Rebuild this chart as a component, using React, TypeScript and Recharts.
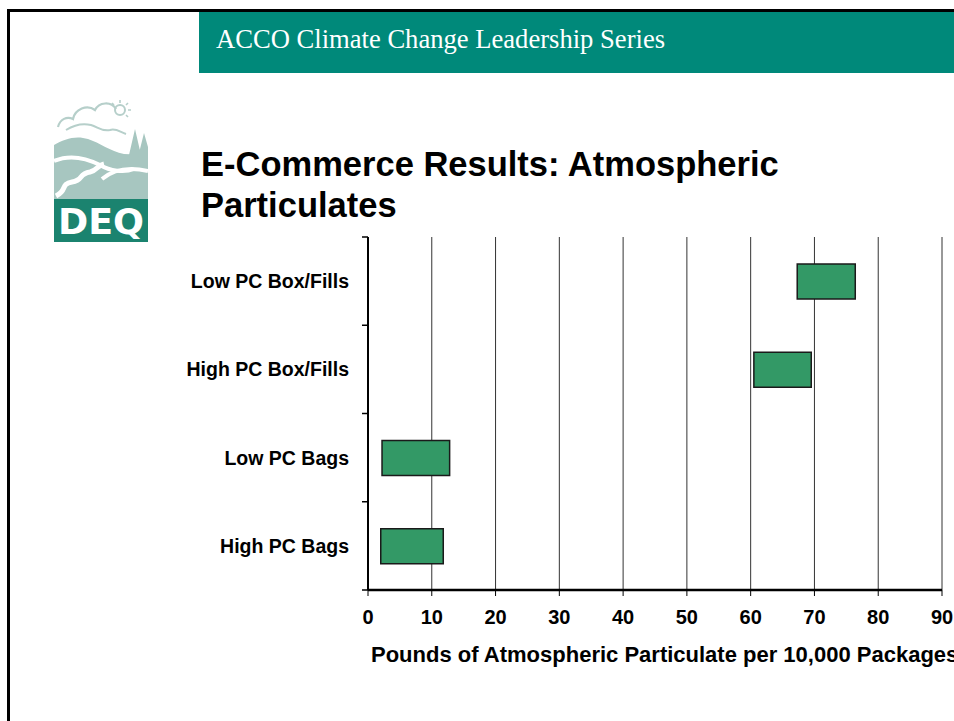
import React from 'react';
import { BarChart, Bar, XAxis, YAxis, CartesianGrid } from 'recharts';

const categories = ['Low PC Box/Fills', 'High PC Box/Fills', 'Low PC Bags', 'High PC Bags'];
const lowValues = [67.3, 60.5, 2.2, 2.0];
const highValues = [76.4, 69.5, 12.8, 11.8];
const xTicks = [0, 10, 20, 30, 40, 50, 60, 70, 80, 90];
const axisTitle = 'Pounds of Atmospheric Particulate per 10,000 Packages';
const headerText = 'ACCO Climate Change Leadership Series';
const titleLines = ['E-Commerce Results: Atmospheric', 'Particulates'];

const data = categories.map((name, i) => ({ name, low: lowValues[i], high: highValues[i] }));

const SANS = '"Liberation Sans", Arial, sans-serif';
const SERIF = '"Liberation Serif", "Times New Roman", serif';
const CAT_MARGIN = 19;
const CAT_TICK = 6;

const LOGO_LIGHT = '#a7c6c0';
const LOGO_LINE = '#b6cfca';

const Logo = () => (
  <svg width={94} height={145} style={{ position: 'absolute', left: 54, top: 97 }}>
    {/* cloud outline */}
    <path d="M4,30 C6,22 13,19 19,22 C21,12 33,7 41,13 C45,5 57,4 62,12" fill="none" stroke={LOGO_LINE} strokeWidth={2.2} />
    <path d="M12,33 C20,28 29,26 37,28 C44,30 48,35 56,33 C62,31 66,35 72,37" fill="none" stroke={LOGO_LINE} strokeWidth={2} />
    {/* sun */}
    <circle cx={66} cy={13} r={5} fill="none" stroke={LOGO_LINE} strokeWidth={2} />
    <path d="M66,3 L66,6 M74,6 L72,8 M77,13 L74,13 M58,6 L60,8 M74,20 L72,18" stroke={LOGO_LINE} strokeWidth={1.6} />
    {/* mountains */}
    <path d="M0,48 C10,42 22,38 34,42 C46,46 56,54 70,57 L94,58 L94,102 L0,102 Z" fill={LOGO_LIGHT} />
    {/* trees */}
    <path d="M75,58 L81,32 L87,58 Z M84,60 L90,36 L94,50 L94,62 Z" fill={LOGO_LIGHT} />
    {/* white hill lines */}
    <path d="M0,64 C14,58 30,60 46,68 C56,74 70,76 80,72" fill="none" stroke="#ffffff" strokeWidth={4} />
    <path d="M48,82 C60,72 76,70 94,74" fill="none" stroke="#ffffff" strokeWidth={4} />
    {/* river */}
    <path d="M2,99 C14,93 6,87 18,85 C30,83 24,77 36,75 C44,73 42,69 50,67" fill="none" stroke="#ffffff" strokeWidth={5} />
    {/* DEQ box */}
    <rect x={0} y={102} width={94} height={43} fill="#1b836f" />
    <text x={47} y={137} textAnchor="middle" fill="#ffffff" fontFamily='"DejaVu Sans", sans-serif' fontWeight="bold" fontSize={35} textLength={86} lengthAdjust="spacingAndGlyphs">DEQ</text>
  </svg>
);

const CategoryTick = (props: any) => {
  const { x, y, payload, index, visibleTicksCount } = props;
  const half = payload && typeof payload.offset === 'number' && payload.offset > 0 ? payload.offset : 44;
  const axisX = x + CAT_MARGIN;
  const isLast = index === visibleTicksCount - 1;
  return (
    <g>
      <line x1={axisX - CAT_TICK} x2={axisX} y1={y - half} y2={y - half} stroke="#000" strokeWidth={1.5} />
      {isLast && <line x1={axisX - CAT_TICK} x2={axisX} y1={y + half} y2={y + half} stroke="#000" strokeWidth={1.5} />}
      <text x={x} y={y} dy="0.355em" textAnchor="end" fill="#000" fontFamily={SANS} fontWeight="bold" fontSize={19.5}>
        {payload.value}
      </text>
    </g>
  );
};

const AxisTitle = (props: any) => {
  const vb = props.viewBox || { x: 0, y: 0, width: 0, height: 0 };
  return (
    <text x={vb.x + 3} y={vb.y + 72} fill="#000" fontFamily={SANS} fontWeight="bold" fontSize={22}>
      {axisTitle}
    </text>
  );
};

export default function App() {
  return (
    <div style={{ position: 'absolute', left: 0, top: 0, width: 954, height: 721, overflow: 'hidden', background: '#fff' }}>
      <style>{`body{margin:0;overflow:hidden}`}</style>
      {/* slide border */}
      <div style={{ position: 'absolute', left: 7, top: 9, width: 3, height: 712, background: '#000' }} />
      <div style={{ position: 'absolute', left: 7, top: 9, width: 947, height: 3, background: '#000' }} />
      {/* header */}
      <div style={{ position: 'absolute', left: 199, top: 12, width: 755, height: 61, background: '#00897a' }} />
      <div style={{ position: 'absolute', left: 216, top: 24, color: '#fff', fontFamily: SERIF, fontSize: 26.6, lineHeight: '30px', whiteSpace: 'nowrap' }}>
        {headerText}
      </div>
      <Logo />
      <div style={{ position: 'absolute', left: 201, top: 144, fontFamily: SANS, fontWeight: 'bold', fontSize: 34.5, lineHeight: '41px', color: '#000', whiteSpace: 'nowrap' }}>
        {titleLines.map((l) => (
          <div key={l}>{l}</div>
        ))}
      </div>
      <div style={{ position: 'absolute', left: 0, top: 0 }}>
        <BarChart
          width={1000}
          height={680}
          data={data}
          layout="vertical"
          margin={{ top: 237, right: 58, bottom: 0, left: 168 }}
          barSize={35}
        >
          <CartesianGrid horizontal={false} vertical={true} stroke="#333" strokeWidth={1} />
          <XAxis
            type="number"
            domain={[0, 90]}
            ticks={xTicks}
            interval={0}
            height={90}
            axisLine={{ stroke: '#000', strokeWidth: 2.5 }}
            tickLine={{ stroke: '#000', strokeWidth: 1 }}
            tickSize={6}
            tickMargin={14}
            tick={{ fill: '#000', fontFamily: SANS, fontWeight: 'bold', fontSize: 20 }}
            label={<AxisTitle />}
          />
          <YAxis
            type="category"
            dataKey="name"
            width={200}
            axisLine={{ stroke: '#000', strokeWidth: 2 }}
            tickLine={false}
            tickSize={0}
            tickMargin={CAT_MARGIN}
            interval={0}
            tick={(p: any) => <CategoryTick {...p} />}
          />
          <Bar
            dataKey={(d: any) => [d.low, d.high]}
            fill="#339966"
            stroke="#1a1a1a"
            strokeWidth={1.5}
            isAnimationActive={false}
          />
        </BarChart>
      </div>
    </div>
  );
}
